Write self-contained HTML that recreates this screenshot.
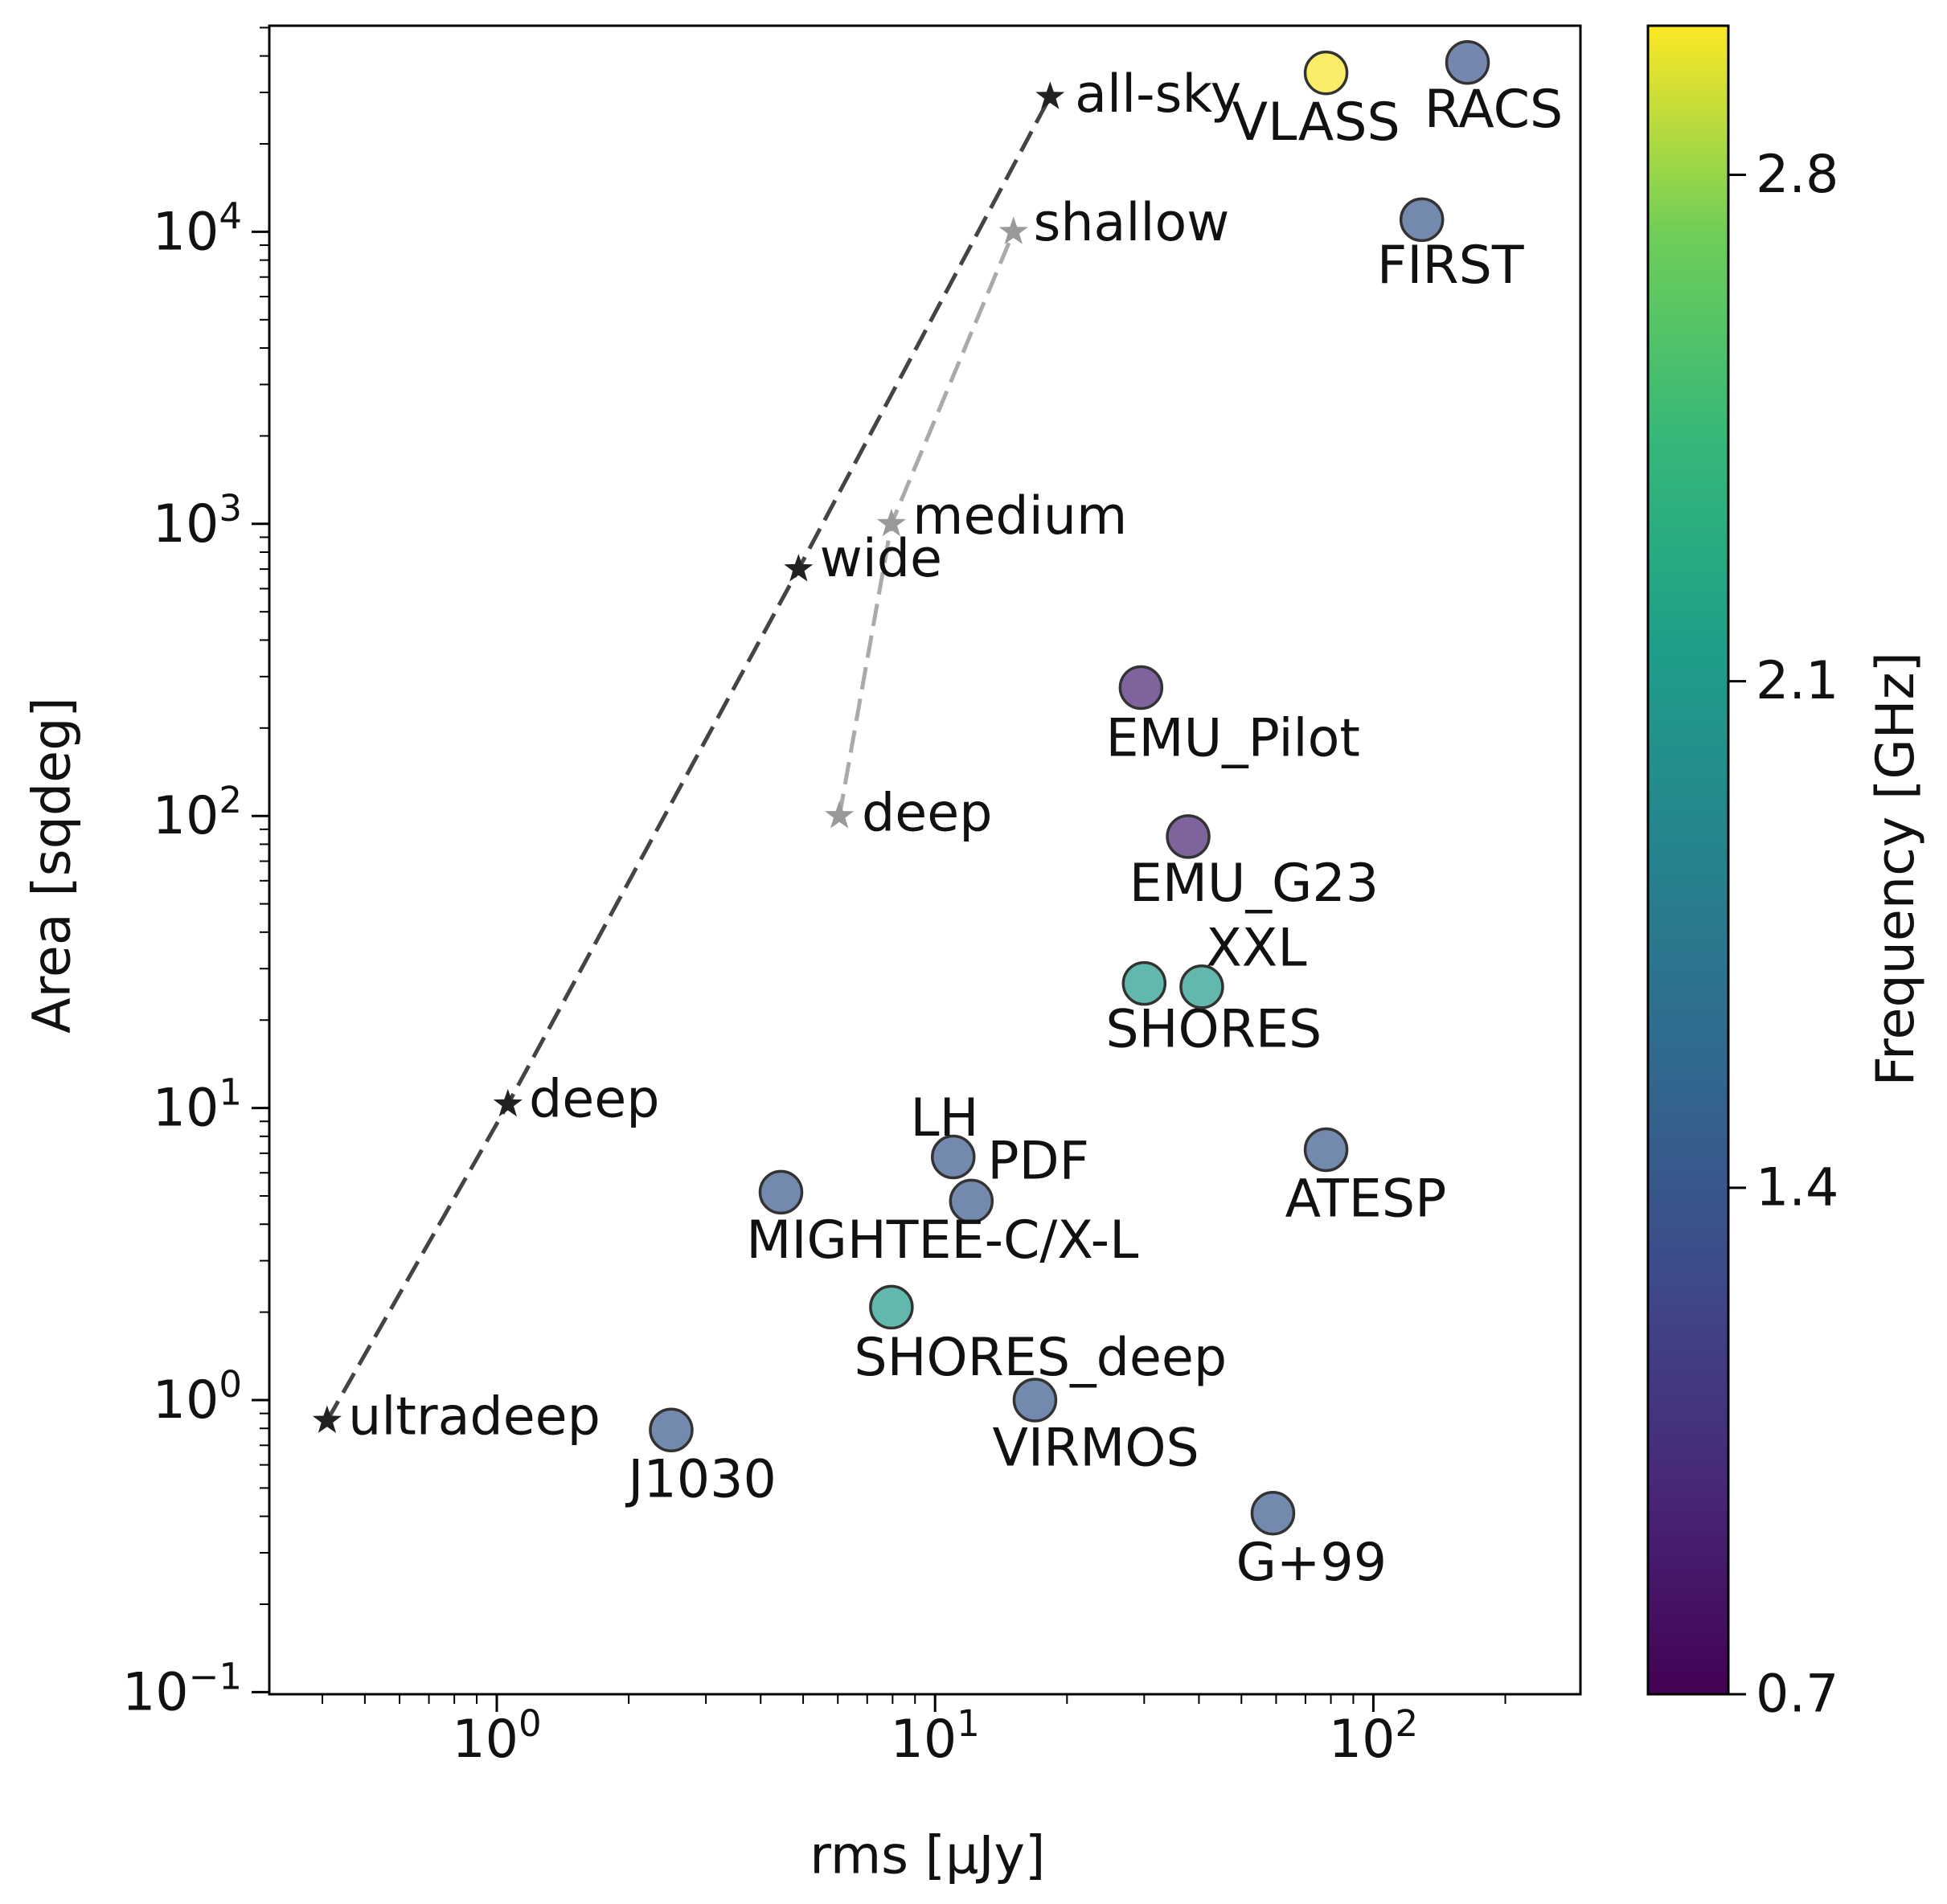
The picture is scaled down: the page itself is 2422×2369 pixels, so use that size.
<!DOCTYPE html>
<html><head><meta charset="utf-8">
<style>
html,body{margin:0;padding:0;background:#fff;}
svg text{font-family:"DejaVu Sans","Liberation Sans",sans-serif;fill:#111;}
</style></head>
<body>
<svg id="chart" xmlns="http://www.w3.org/2000/svg" width="2422" height="2364" viewBox="0 0 2422 2364">
<defs>
<linearGradient id="vir" x1="0" y1="1" x2="0" y2="0">
<stop offset="0" stop-color="#440154"/><stop offset="0.125" stop-color="#482878"/>
<stop offset="0.25" stop-color="#3e4a89"/><stop offset="0.375" stop-color="#31688e"/>
<stop offset="0.5" stop-color="#26828e"/><stop offset="0.625" stop-color="#1f9e89"/>
<stop offset="0.75" stop-color="#35b779"/><stop offset="0.875" stop-color="#6ece58"/>
<stop offset="1" stop-color="#fde725"/>
</linearGradient>
</defs>
<g id="plot"></g>
</svg>
<script>
const surveyNames=["VLASS","RACS","FIRST","EMU_Pilot","EMU_G23","SHORES","XXL","LH","PDF","MIGHTEE-C/X-L","ATESP","SHORES_deep","J1030","VIRMOS","G+99"];
const surveyRms=[78,164,129,29.5,37.8,30,40.6,11,12.1,4.45,78,7.95,2.5,16.9,59];
const surveyArea=[35000,38000,11000,275,85,26.7,26,6.8,4.8,5.15,7.2,2.08,0.79,1.0,0.41];
const surveyFreq=[3.0,1.37,1.4,0.94,0.94,2.1,2.1,1.4,1.4,1.4,1.4,2.1,1.4,1.4,1.4];
const blackNames=["ultradeep","deep","wide","all-sky"];
const blackRms=[0.41,1.06,4.88,18.3];
const blackArea=[0.85,10.3,700,29000];
const greyNames=["deep","medium","shallow"];
const greyRms=[6.05,7.95,15.1];
const greyArea=[100,1000,10000];
const xTickExp=[0,1,2];
const yTickExp=[-1,0,1,2,3,4];
const cbTicks=[0.7,1.4,2.1,2.8];

const S=1.5446;
const L=335,R=1966,T=32,B=2108;
const X0=618,XD=545.2,Y0=1742,YD=363.4;
const fx=v=>X0+Math.log10(v)*XD;
const fy=v=>Y0-Math.log10(v)*YD;
const CB={x:2050,w:100,vmin:0.7,vmax:3.006};
const fc=v=>B-(v-CB.vmin)/(CB.vmax-CB.vmin)*(B-T);
const vir=[[68,1,84],[72,40,120],[62,74,137],[49,104,142],[38,130,142],[31,158,137],[53,183,121],[110,206,88],[253,231,37]];
function color(v){let t=(v-CB.vmin)/(CB.vmax-CB.vmin);t=Math.max(0,Math.min(1,t))*8;const i=Math.min(7,Math.floor(t)),f=t-i;const c=vir[i].map((a,k)=>Math.round(a+(vir[i+1][k]-a)*f));return `rgb(${c})`;}
const surveyOff=[[-8,40],[21,38],[23,37],[74,41],[53,38],[56,37],[44,-31],[-7,-31],[54,-32],[130,39],[32,40],[120,41],[25,40],[49,39],[31,40]];
const blackOff=[[17,-3],[17,-4],[17,-8],[20,-2]];
const greyOff=[[18,-2],[17,-6],[16,-7]];
const NS="http://www.w3.org/2000/svg";
const g=document.getElementById('plot');
function el(tag,attrs,parent){const e=document.createElementNS(NS,tag);for(const k in attrs)e.setAttribute(k,attrs[k]);(parent||g).appendChild(e);return e;}
const FS=65;
function txt(x,y,s,anchor,name,size){const t=el('text',{x:x,y:y,'font-size':size||FS,'text-anchor':anchor||'middle','dominant-baseline':'central'});t.textContent=s;


return t;}
function starPath(cx,cy,r){let d='';for(let i=0;i<10;i++){const rr=i%2?r*0.4:r;const a=-Math.PI/2+i*Math.PI/5;d+=(i?'L':'M')+(cx+rr*Math.cos(a)).toFixed(1)+','+(cy+rr*Math.sin(a)).toFixed(1);}return d+'Z';}

const frame=el('rect',{x:L,y:T,width:R-L,height:B-T,fill:'none',stroke:'#000','stroke-width':3});



for(let e=-1;e<=2;e++){for(let m=1;m<10;m++){const v=m*Math.pow(10,e);const x=fx(v);if(x<L-1||x>R+1)continue;const len=m===1?22:12;
const tk=el('line',{x1:x,y1:B,x2:x,y2:B+len,stroke:'#000','stroke-width':m===1?3:2});

}}
xTickExp.forEach(e=>{const x=fx(Math.pow(10,e));const t=el('text',{x:x,y:B+78,'font-size':FS,'text-anchor':'middle'});t.innerHTML=`10<tspan dy="-26" font-size="45">${e}</tspan>`;

});
for(let e=-1;e<=4;e++){for(let m=1;m<10;m++){const v=m*Math.pow(10,e);const y=fy(v);if(y<T-1||y>B+1)continue;const len=m===1?22:12;
const tk=el('line',{x1:L-len,y1:y,x2:L,y2:y,stroke:'#000','stroke-width':m===1?3:2});

}}
yTickExp.forEach(e=>{const y=fy(Math.pow(10,e));const t=el('text',{x:L-34,y:y+22,'font-size':FS,'text-anchor':'end'});t.innerHTML=`10<tspan dy="-26" font-size="45">${e<0?'\u2212'+(-e):e}</tspan>`;

});

txt(747*S,1495*S,'rms [\u03bcJy]','middle','x-axis-title');
const yt=txt(42*S,697*S,'Area [sqdeg]','middle','y-axis-title');yt.setAttribute('transform',`rotate(-90 ${42*S} ${697*S})`);

function series(xs,ys,col,name){const pts=xs.map((v,i)=>fx(v)+','+fy(ys[i])).join(' ');
const pl=el('polyline',{points:pts,fill:'none',stroke:col,'stroke-width':5,'stroke-dasharray':'28 12'});

}
series(blackRms,blackArea,'#444','black-dashed-line');
series(greyRms,greyArea,'#aaa','grey-dashed-line');
blackRms.forEach((v,i)=>{const s=el('path',{d:starPath(fx(v),fy(blackArea[i]),19),fill:'#222'});


txt(fx(v)+blackOff[i][0]*S,fy(blackArea[i])+blackOff[i][1]*S,blackNames[i],'start','black-star-label');});
greyRms.forEach((v,i)=>{const s=el('path',{d:starPath(fx(v),fy(greyArea[i]),19),fill:'#999'});


txt(fx(v)+greyOff[i][0]*S,fy(greyArea[i])+greyOff[i][1]*S,greyNames[i],'start','grey-star-label');});

surveyRms.forEach((v,i)=>{const cx=fx(v),cy=fy(surveyArea[i]);
const c=el('circle',{cx:cx,cy:cy,r:26,fill:color(surveyFreq[i]),'fill-opacity':0.7,stroke:'#333','stroke-width':3.5});


txt(cx+surveyOff[i][0]*S,cy+surveyOff[i][1]*S,surveyNames[i],'middle','survey-label');});

const cb=el('rect',{x:CB.x,y:T,width:CB.w,height:B-T,fill:'url(#vir)',stroke:'#000','stroke-width':3});


cbTicks.forEach(v=>{const y=fc(v);
const tk=el('line',{x1:CB.x+CB.w,y1:y,x2:CB.x+CB.w+22,y2:y,stroke:'#000','stroke-width':3});


txt(CB.x+CB.w+34,y,v.toFixed(1),'start','colorbar-tick-label');});
const ct=txt(1527*S,700*S,'Frequency [GHz]','middle','colorbar-title');ct.setAttribute('transform',`rotate(-90 ${1527*S} ${700*S})`);
</script>
</body></html>
